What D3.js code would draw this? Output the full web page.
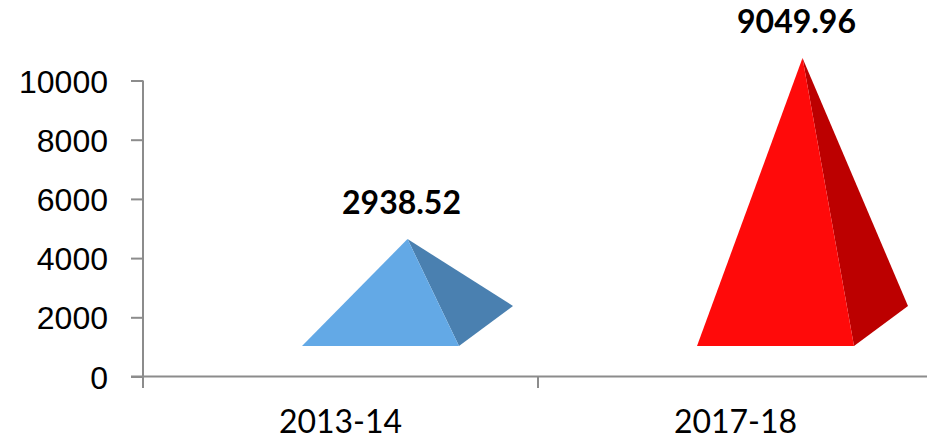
<!DOCTYPE html>
<html>
<head>
<meta charset="utf-8">
<script src="https://cdn.jsdelivr.net/npm/d3@7.9.0/dist/d3.min.js"></script>
<style>
  body { margin: 0; background: #fff; }
  svg { display: block; font-family: Lato, 'Open Sans', sans-serif; }
</style>
</head>
<body>
<div id="chart"></div>
<script>
const categories = ['2013-14', '2017-18'];
const values = [2938.52, 9049.96];
const yTicks = [0, 2000, 4000, 6000, 8000, 10000];
const frontColors = ['#63a9e6', '#ff0a0a'];
const sideColors = ['#4a80b0', '#bc0000'];

const width = 927;
const height = 439;

const svg = d3.select('#chart')
  .append('svg')
  .attr('width', width)
  .attr('height', height);

const yScale = d3.scaleLinear().domain([0, 10000]).range([376.5, 80.5]);
const xScale = d3.scaleBand().domain(categories).range([143, 933]).padding(0);

// 3d floor: front edge sits above the value axis, depth goes up-right
const floorFront = 346;
const depth = [54, -40];
const halfBase = 78.5;
const frontShift = 40;

// y axis
const yAxis = d3.axisLeft(yScale)
  .tickValues(yTicks)
  .tickSize(12)
  .tickSizeOuter(0)
  .tickPadding(23)
  .tickFormat(d3.format('d'));

const gy = svg.append('g')
  .attr('transform', 'translate(143,0)')
  .call(yAxis);
gy.select('.domain').remove();
gy.selectAll('.tick line').attr('stroke', '#8c8c8c').attr('stroke-width', 2);
gy.selectAll('.tick text')
  .attr('fill', '#000')
  .style('font-size', '32px')
  .attr('dy', '0.36em');

svg.append('line')
  .attr('x1', 143).attr('x2', 143)
  .attr('y1', yScale(10000)).attr('y2', 388)
  .attr('stroke', '#8c8c8c').attr('stroke-width', 2);

// x axis
svg.append('line')
  .attr('x1', 131).attr('x2', width)
  .attr('y1', yScale(0)).attr('y2', yScale(0))
  .attr('stroke', '#8c8c8c').attr('stroke-width', 2);

const bounds = categories.map(c => xScale(c)).concat([xScale.range()[1]]);
svg.append('g')
  .selectAll('line')
  .data(bounds.slice(1))
  .join('line')
  .attr('x1', d => d).attr('x2', d => d)
  .attr('y1', yScale(0)).attr('y2', 388)
  .attr('stroke', '#8c8c8c').attr('stroke-width', 2);

svg.append('g')
  .selectAll('text')
  .data(categories)
  .join('text')
  .attr('x', d => xScale(d) + xScale.bandwidth() / 2)
  .attr('y', 433)
  .attr('text-anchor', 'middle')
  .style('font-size', '32px')
  .text(d => d);

// pyramids
const pyramids = categories.map((c, i) => {
  const fc = xScale(c) + xScale.bandwidth() / 2 + frontShift;
  const fl = [fc - halfBase, floorFront];
  const fr = [fc + halfBase, floorFront];
  const br = [fr[0] + depth[0], fr[1] + depth[1]];
  const h = yScale(0) - yScale(values[i]);
  const apex = [fc + depth[0] / 2, floorFront + depth[1] / 2 - h];
  return { c, i, fl, fr, br, apex };
});

const g = svg.append('g');
g.selectAll('path.side')
  .data(pyramids)
  .join('path')
  .attr('class', 'side')
  .attr('d', d => `M${d.fr}L${d.br}L${d.apex}Z`)
  .attr('fill', d => sideColors[d.i]);

g.selectAll('path.front')
  .data(pyramids)
  .join('path')
  .attr('class', 'front')
  .attr('d', d => `M${d.fl}L${d.fr}L${d.apex}Z`)
  .attr('fill', d => frontColors[d.i]);

svg.append('g')
  .selectAll('text')
  .data(pyramids)
  .join('text')
  .attr('x', d => d.apex[0] - 6)
  .attr('y', d => d.apex[1] - 25)
  .attr('text-anchor', 'middle')
  .style('font-size', '32px')
  .style('font-weight', 'bold')
  .text(d => values[d.i].toFixed(2));
</script>
</body>
</html>
